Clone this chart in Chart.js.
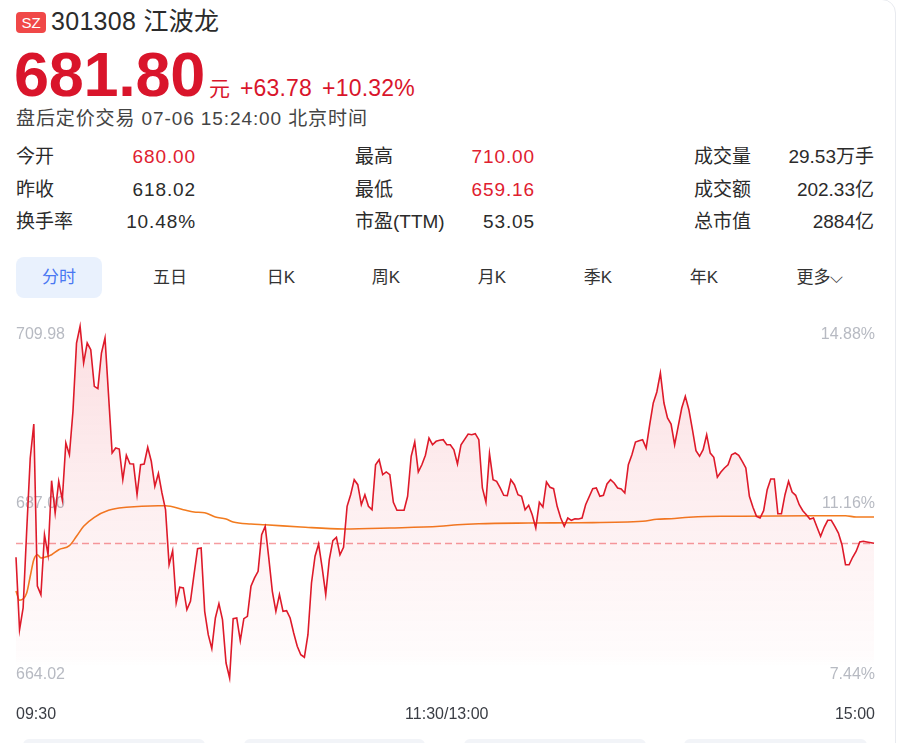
<!DOCTYPE html>
<html>
<head>
<meta charset="utf-8">
<script src="https://cdn.jsdelivr.net/npm/chart.js@4.4.0/dist/chart.umd.min.js"></script>
<style>
  html, body { margin: 0; padding: 0; background: #fff; }
  body { width: 900px; height: 743px; position: relative; overflow: hidden;
         font-family: "Liberation Sans", Arial, "Noto Sans CJK SC", sans-serif; color: #333; }
  .abs { position: absolute; white-space: nowrap; }
  .card { position: absolute; left: -10px; top: -1px; width: 904px; height: 800px;
          border: 1px solid #e8eaef; border-radius: 0 14px 0 0; }
  .badge { left: 16px; top: 12px; width: 30px; height: 21px; line-height: 21px; border-radius: 4px;
           background: #f04848; color: #fff; font-size: 15px; text-align: center; }
  .title { left: 51px; top: 8px; font-size: 25px; line-height: 27px; color: #2b2b2b; letter-spacing: 0.3px; }
  .price { left: 14px; top: 43px; line-height: 62px; color: #d9152b; }
  .price .big { font-size: 63px; font-weight: bold; letter-spacing: -0.3px; }
  .price .unit { font-size: 21px; margin-left: 4px; }
  .price .chg { font-size: 23px; margin-left: 10px; letter-spacing: 0.2px; }
  .sub { left: 16px; top: 109px; font-size: 19px; line-height: 20px; color: #444; letter-spacing: 0.9px; }
  .stat { font-size: 19px; line-height: 20px; color: #2b2b2b; }
  .num { letter-spacing: 0.9px; }
  .val { text-align: right; width: 140px; }
  .red { color: #e0202f; }
  .tabbg { left: 16px; top: 257px; width: 86px; height: 41px; border-radius: 8px; background: #e9f1fd; }
  .tab { top: 268px; font-size: 17px; line-height: 19px; color: #333; transform: translateX(-50%); }
  .tab.on { color: #4a78f2; }
  .foot { top: 739px; height: 12px; border-radius: 6px; background: #f2f4f8; }
  #wrap { position: absolute; left: 0; top: 300px; width: 900px; height: 443px; }
</style>
</head>
<body>
<div class="card"></div>
<div class="abs badge">SZ</div>
<div class="abs title">301308 江波龙</div>
<div class="abs price"><span class="big">681.80</span><span class="unit">元</span><span class="chg">+63.78</span><span class="chg">+10.32%</span></div>
<div class="abs sub">盘后定价交易 07-06 15:24:00 北京时间</div>

<div class="abs stat" style="left:16px;top:147px">今开</div>
<div class="abs stat val num red" style="left:56px;top:147px">680.00</div>
<div class="abs stat" style="left:16px;top:180px">昨收</div>
<div class="abs stat val num" style="left:56px;top:180px">618.02</div>
<div class="abs stat" style="left:16px;top:212px">换手率</div>
<div class="abs stat val num" style="left:56px;top:212px">10.48%</div>

<div class="abs stat" style="left:355px;top:147px">最高</div>
<div class="abs stat val num red" style="left:395px;top:147px">710.00</div>
<div class="abs stat" style="left:355px;top:180px">最低</div>
<div class="abs stat val num red" style="left:395px;top:180px">659.16</div>
<div class="abs stat" style="left:355px;top:212px">市盈(TTM)</div>
<div class="abs stat val num" style="left:395px;top:212px">53.05</div>

<div class="abs stat" style="left:694px;top:147px">成交量</div>
<div class="abs stat val" style="left:734px;top:147px">29.53万手</div>
<div class="abs stat" style="left:694px;top:180px">成交额</div>
<div class="abs stat val" style="left:734px;top:180px">202.33亿</div>
<div class="abs stat" style="left:694px;top:212px">总市值</div>
<div class="abs stat val" style="left:734px;top:212px">2884亿</div>

<div class="abs tabbg"></div>
<div class="abs tab on" style="left:59px">分时</div>
<div class="abs tab" style="left:170px">五日</div>
<div class="abs tab" style="left:281px">日K</div>
<div class="abs tab" style="left:386px">周K</div>
<div class="abs tab" style="left:492px">月K</div>
<div class="abs tab" style="left:598px">季K</div>
<div class="abs tab" style="left:704px">年K</div>
<div class="abs tab" style="left:820px">更多⌵</div>

<div id="wrap"><canvas id="timeChart"></canvas></div>

<div class="abs foot" style="left:23px;width:182px"></div>
<div class="abs foot" style="left:244px;width:181px"></div>
<div class="abs foot" style="left:464px;width:182px"></div>
<div class="abs foot" style="left:684px;width:183px"></div>

<script>
// quote data
var prevClose = 618.02;
var lastPrice = 681.80;
var yTicks = [709.98, 687.00, 664.02];
var timeTicks = [0, 121, 241];
var timeLabels = ["09:30", "11:30/13:00", "15:00"];

// one price per minute (index 0 = 09:30, 241 = 15:00), null where not read
var prices = [
    680.00, 670.58, 673.40, 683.40, 692.89, 697.30, 676.26, 675.13, 682.92, 680.32,
    689.94, 685.74, 689.86, 687.47, 694.83, 693.31, 698.95, 707.82, 710.00, 705.23,
    707.82, 706.95, 702.20, 701.89, 706.52, 708.47, null, 693.53, 694.18, 694.05,
    690.07, 693.24, 692.14, 692.11, 688.12, 692.01, 692.11, 694.28, 692.46, 689.21,
    690.88, 688.34, 686.17, 679.02, 680.84, 674.05, 676.09, 676.00, 673.18, 674.27,
    677.73, 681.10, 681.19, 672.97, 669.93, 668.11, 672.10, 673.96, 671.88, 666.25,
    664.31, 672.01, 672.10, 669.15, 672.01, 672.32, 676.22, 677.30, 678.17, 682.92,
    684.01, 679.90, 675.57, 672.97, 675.13, 672.97, 673.05, 672.10, 670.15, 668.43,
    667.33, 667.00, 669.93, 676.65, 680.12, 681.71, 678.60, 675.13, 679.67, 682.14,
    682.58, 680.32, 681.28, 686.61, 688.12, 690.07, 689.42, 686.82, 688.12, 686.61,
    686.17, 692.01, 692.66, 690.72, 691.07, 690.72, 687.13, 686.09, 686.09, 686.09,
    687.91, 693.11, 694.96, 691.07, 692.01, 693.24, 695.48, 694.61, 695.05, 695.18,
    695.26, 694.61, 694.61, 693.96, 692.11, 694.61, null, 696.00, 695.91, 696.04,
    695.26, 688.99, 687.13, 693.44, 690.07, 689.86, 688.99, 688.04, 687.99, 690.07,
    689.42, 688.12, 687.91, 686.17, 686.74, 685.52, 683.79, 687.13, 686.52, 689.77,
    689.08, 688.90, 686.61, 685.09, 684.01, 685.09, 684.79, 685.00, 684.96, 685.09,
    686.82, null, 688.90, 688.99, 687.91, 688.04, 689.51, 690.07, 689.64, 688.99,
    688.86, 688.34, 692.01, 693.31, 694.96, 695.13, 695.26, 694.18, 697.21, 700.03,
    701.46, 703.93, 700.03, 698.08, 697.30, 694.61, 697.00, 699.38, 700.90, 699.16,
    696.56, 693.83, 693.11, 693.96, 695.91, 693.53, 692.98, 690.38, 691.07, 691.59,
    692.01, 693.31, 693.53, 693.24, 692.46, 691.59, 687.91, 686.48, 685.31, 685.09,
    686.04, 688.77, 690.16, 690.16, 685.65, 685.65, 688.12, 689.86, 688.47, 688.04,
    686.82, 686.04, 685.52, 684.96, 685.09, 683.88, 682.71, 683.88, 684.79, 684.79,
    684.01, 683.14, 681.62, 679.02, 679.02, 679.99, 680.77, 681.97, 682.06, 681.97,
    null, 681.80
];

// average price line, read at its bends
var avgMinutes = [0, 1, 3, 4, 5, 6, 7, 8, 10, 12, 15, 17, 19, 22, 26, 31, 40, 42, 47, 50,
    53, 56, 59, 61, 66, 70, 80, 92, 105, 119, 124, 130, 144, 158, 176, 180, 184, 189, 198, 204,
    223, 233, 236, 241];
var avgPrices = [675.60, 674.40, 675.35, 677.52, 679.67, 680.32, 679.90, 679.99, 680.32, 680.97,
    681.49, 682.71, 684.01, 685.18, 686.09, 686.48, 686.69, 686.69, 686.17, 685.87,
    685.78, 685.22, 684.96, 684.57, 684.31, 684.22, 683.92, 683.66, 683.79, 684.01,
    684.22, 684.35, 684.44, 684.48, 684.66, 684.92, 685.00, 685.18, 685.31, 685.31,
    685.39, 685.39, 685.22, 685.22];

var pricePoints = prices.map(function (v, i) { return { x: i, y: v }; });
var avgPoints = avgMinutes.map(function (m, i) { return { x: m, y: avgPrices[i] }; });

// labels and last price dashed line, drawn under the lines
var quoteLabels = {
    id: 'quoteLabels',
    beforeDatasetsDraw: function (chart) {
        var ctx = chart.ctx, ys = chart.scales.y, xs = chart.scales.x, area = chart.chartArea;
        ctx.save();
        var py = Math.round(ys.getPixelForValue(lastPrice)) + 0.5;
        ctx.strokeStyle = '#f59c9f';
        ctx.lineWidth = 1.4;
        ctx.setLineDash([7, 4]);
        ctx.beginPath();
        ctx.moveTo(area.left, py);
        ctx.lineTo(area.right, py);
        ctx.stroke();
        ctx.setLineDash([]);

        ctx.font = '16px "Liberation Sans", Arial, sans-serif';
        ctx.fillStyle = '#b7bac2';
        ctx.textBaseline = 'middle';
        var offsets = [8.6, 0, -5.2];
        yTicks.forEach(function (v, i) {
            var ty = ys.getPixelForValue(v) + offsets[i];
            ctx.textAlign = 'left';
            ctx.fillText(v.toFixed(2), area.left, ty);
            ctx.textAlign = 'right';
            ctx.fillText(((v / prevClose - 1) * 100).toFixed(2) + '%', area.right + 1, ty);
        });

        ctx.fillStyle = '#3a3d44';
        var aligns = ['left', 'center', 'right'];
        timeTicks.forEach(function (m, i) {
            ctx.textAlign = aligns[i];
            ctx.fillText(timeLabels[i], xs.getPixelForValue(m) + (i == 2 ? 1 : 0), area.bottom + 34);
        });
        ctx.restore();
    }
};

var ctx = document.getElementById("timeChart").getContext("2d");

// area fill fades out towards the bottom of the plot (canvas pixels)
var areaFill = ctx.createLinearGradient(0, 26, 0, 366);
areaFill.addColorStop(0, 'rgba(232,40,60,0.15)');
areaFill.addColorStop(0.5, 'rgba(232,40,60,0.08)');
areaFill.addColorStop(0.97, 'rgba(232,40,60,0.015)');
areaFill.addColorStop(1, 'rgba(232,40,60,0)');

new Chart(ctx, {
    type: 'line',
    data: {
        datasets: [
            {
                label: '价格',
                data: pricePoints,
                borderColor: '#de1a2a',
                borderWidth: 1.6,
                pointRadius: 0,
                tension: 0,
                spanGaps: true,
                clip: false,
                fill: 'start',
                backgroundColor: areaFill
            },
            {
                label: '均价',
                data: avgPoints,
                borderColor: '#f27b1f',
                borderWidth: 1.6,
                pointRadius: 0,
                cubicInterpolationMode: 'monotone',
                fill: false,
                clip: false
            }
        ]
    },
    options: {
        responsive: true,
        maintainAspectRatio: false,
        animation: false,
        layout: { padding: { left: 16, right: 26, top: 26.4, bottom: 62.8 } },
        plugins: { legend: { display: false }, tooltip: { enabled: false } },
        scales: {
            x: { type: 'linear', min: 0, max: 241, display: false },
            y: { min: 664.02, max: 709.98, display: false }
        }
    },
    plugins: [quoteLabels]
});
</script>
</body>
</html>
